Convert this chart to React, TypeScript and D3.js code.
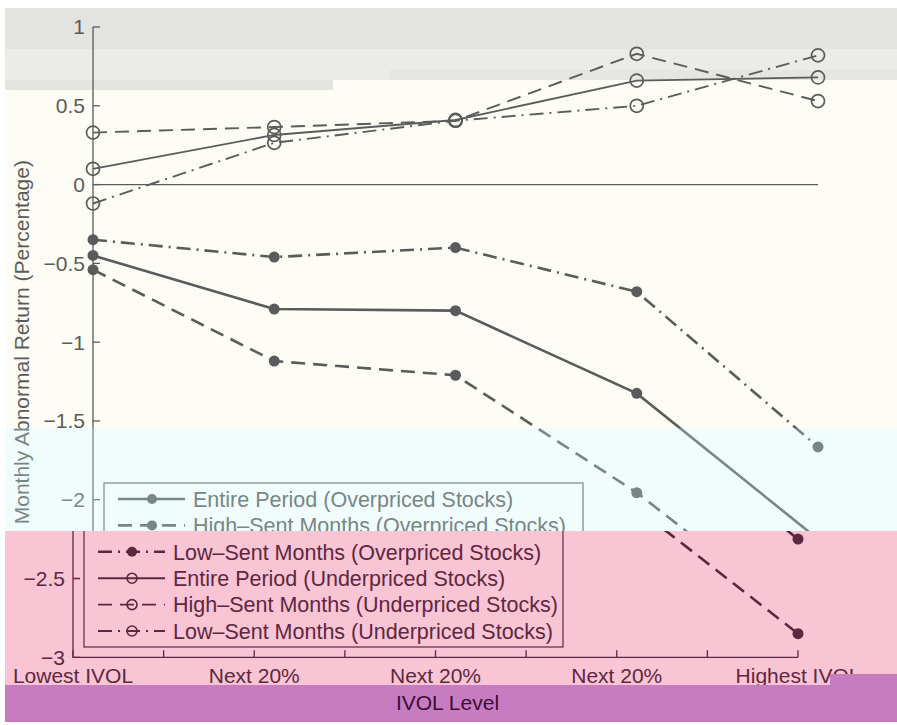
import * as d3 from 'd3';
import React from 'react';

// categories along the x axis (IVOL quintiles)
const categories = ['Lowest IVOL', 'Next 20%', 'Next 20%', 'Next 20%', 'Highest IVOL'];

// monthly abnormal returns (%)
const entireOver = [-0.45, -0.79, -0.8, -1.325, -2.25];
const highOver = [-0.54, -1.12, -1.21, -1.955, -2.85];
const lowOver = [-0.35, -0.46, -0.4, -0.68, -1.665];
const entireUnder = [0.1, 0.315, 0.41, 0.66, 0.68];
const highUnder = [0.33, 0.365, 0.405, 0.83, 0.53];
const lowUnder = [-0.12, 0.265, 0.405, 0.5, 0.82];

const seriesLabels = [
  'Entire Period (Overpriced Stocks)',
  'High\u2013Sent Months (Overpriced Stocks)',
  'Low\u2013Sent Months (Overpriced Stocks)',
  'Entire Period (Underpriced Stocks)',
  'High\u2013Sent Months (Underpriced Stocks)',
  'Low\u2013Sent Months (Underpriced Stocks)',
];

const yTickValues = [1, 0.5, 0, -0.5, -1, -1.5, -2, -2.5, -3];

const W = 897;
const H = 725;
const FONT = '"Liberation Sans", Arial, Helvetica, sans-serif';

const x = d3.scaleLinear().domain([0, categories.length - 1]).range([93, 818]);
const y = d3.scaleLinear().domain([-3, 1]).range([657.3, 27]);
const fmt = d3.format('~g');

const DASH = '14,8';
const DASHDOT = '14,6,2,6';

const series = [
  { label: seriesLabels[0], values: entireOver, dash: undefined, filled: true },
  { label: seriesLabels[1], values: highOver, dash: DASH, filled: true },
  { label: seriesLabels[2], values: lowOver, dash: DASHDOT, filled: true },
  { label: seriesLabels[3], values: entireUnder, dash: undefined, filled: false },
  { label: seriesLabels[4], values: highUnder, dash: DASH, filled: false },
  { label: seriesLabels[5], values: lowUnder, dash: DASHDOT, filled: false },
];

// the scanned page has tinted strips, each with its own ink and a small horizontal slip
const bands = [
  { id: 'band0', d: `M0,0H${W}V428H0Z`, y0: 0, y1: 428, ink: '#5b5b5b', dx: 0 },
  { id: 'band1', d: `M0,428H${W}V531H0Z`, y0: 428, y1: 531, ink: '#778686', dx: 0 },
  { id: 'band2', d: `M0,531H${W}V674H830V685H0Z`, y0: 531, y1: 685, ink: '#5e2740', dx: -20 },
  { id: 'band3', d: `M0,685H830V674H${W}V${H}H0Z`, y0: 685, y1: H, ink: '#3d0c38', dx: -8 },
];

const line = d3.line<number>().x((_, i) => x(i)).y(d => y(d));

function ChartLayer({ ink, dx, y0, y1 }: { ink: string; dx: number; y0: number; y1: number }) {
  const halfTicks = d3.range(0, categories.length - 1 + 0.01, 0.5);
  const legend = { x: 104, y: 483, w: 479, h: 164, row0: 499, rowH: 26.4 };
  // texts are only written in the strip where they sit
  const inBand = (top: number, bottom: number) => top < y1 && bottom > y0;
  return (
    <g transform={`translate(${dx},0)`} fontFamily={FONT}>
      {/* zero reference line */}
      <line x1={x(0)} x2={x(4)} y1={y(0)} y2={y(0)} stroke={ink} strokeWidth={1.3} />

      {/* axes */}
      <path d={`M${x(0)},${y(1)}V${y(-3)}H${x(4)}`} fill="none" stroke={ink} strokeWidth={1.3} />
      {yTickValues.map(v => (
        <g key={'yt' + v}>
          <line x1={x(0)} x2={x(0) + 7} y1={y(v)} y2={y(v)} stroke={ink} strokeWidth={1.3} />
          {inBand(y(v) - 7, y(v) + 7) &&
            <text x={85} y={y(v)} dy="0.35em" textAnchor="end" fontSize={21} fill={ink}>{fmt(v)}</text>}
        </g>
      ))}
      {halfTicks.map(t => (
        <line key={'xt' + t} x1={x(t)} x2={x(t)} y1={y(-3)} y2={y(-3) - 7} stroke={ink} strokeWidth={1.3} />
      ))}
      {inBand(668, 683) && categories.map((c, i) => (
        <text key={'xl' + i} x={x(i)} y={683} textAnchor="middle" fontSize={21} fill={ink}>{c}</text>
      ))}
      {inBand(695, 710) &&
        <text x={(x(0) + x(4)) / 2} y={710} textAnchor="middle" fontSize={21} fill={ink}>IVOL Level</text>}

      {/* series */}
      {series.map((s, k) => (
        <g key={'s' + k}>
          <path d={line(s.values) || ''} fill="none" stroke={ink}
            strokeWidth={s.filled ? 2.6 : 1.9} strokeDasharray={s.dash} />
          {s.values.map((v, i) => s.filled
            ? <circle key={i} cx={x(i)} cy={y(v)} r={5.5} fill={ink} />
            : <circle key={i} cx={x(i)} cy={y(v)} r={6.5} fill="none" stroke={ink} strokeWidth={1.7} />)}
        </g>
      ))}

      {/* legend */}
      <rect x={legend.x} y={legend.y} width={legend.w} height={legend.h} fill="none" stroke={ink} strokeWidth={1.2} />
      {series.map((s, k) => {
        const cy = legend.row0 + k * legend.rowH;
        return (
          <g key={'lg' + k}>
            <line x1={118} x2={185} y1={cy} y2={cy} stroke={ink}
              strokeWidth={s.filled ? 2.6 : 1.9} strokeDasharray={s.dash} />
            {s.filled
              ? <circle cx={152} cy={cy} r={5} fill={ink} />
              : <circle cx={152} cy={cy} r={5} fill="none" stroke={ink} strokeWidth={1.6} />}
            {inBand(cy - 8, cy + 5) &&
              <text x={193} y={cy} dy="0.36em" fontSize={21.5} fill={ink}>{s.label}</text>}
          </g>
        );
      })}
    </g>
  );
}

export default function App() {
  const ylabY = (y(1) + y(-3)) / 2;
  // in the rotated frame local x runs up the page; the grey/cyan ink change sits at page y = 428
  const split = (ylabY - 428 + 400) / 800;
  return (
    <svg width={W} height={H} style={{ position: 'absolute', left: 0, top: 0 }}>
      <defs>
        {bands.map(b => (
          <clipPath key={b.id} id={b.id}><path d={b.d} /></clipPath>
        ))}
        <linearGradient id="ylabInk" gradientUnits="userSpaceOnUse" x1={-400} x2={400} y1={0} y2={0}>
          <stop offset={split} stopColor={bands[1].ink} />
          <stop offset={split} stopColor={bands[0].ink} />
        </linearGradient>
      </defs>

      {/* page tints */}
      <rect x={0} y={0} width={W} height={H} fill="#ffffff" />
      <rect x={5} y={8} width={W - 5} height={420} fill="#fdfdf6" />
      <rect x={5} y={8} width={W - 5} height={41} fill="#e3e4e0" />
      <rect x={5} y={49} width={W - 5} height={31} fill="#ebece8" />
      <rect x={390} y={70} width={W - 390} height={10} fill="#e5e6e2" />
      <rect x={5} y={80} width={328} height={10} fill="#e3e4e0" />
      <rect x={5} y={428} width={W - 5} height={103} fill="#f1fdfd" />
      <path d={`M5,531H${W}V674H830V685H5Z`} fill="#f9c4d4" />
      <path d={`M5,685H830V674H${W}V722H5Z`} fill="#c77cc0" />

      {bands.map(b => (
        <g key={b.id} clipPath={`url(#${b.id})`}>
          <ChartLayer ink={b.ink} dx={b.dx} y0={b.y0} y1={b.y1} />
        </g>
      ))}

      <text transform={`translate(29,${ylabY}) rotate(-90)`} textAnchor="middle" fontSize={21}
        fontFamily={FONT} fill="url(#ylabInk)">
        Monthly Abnormal Return (Percentage)
      </text>
    </svg>
  );
}
